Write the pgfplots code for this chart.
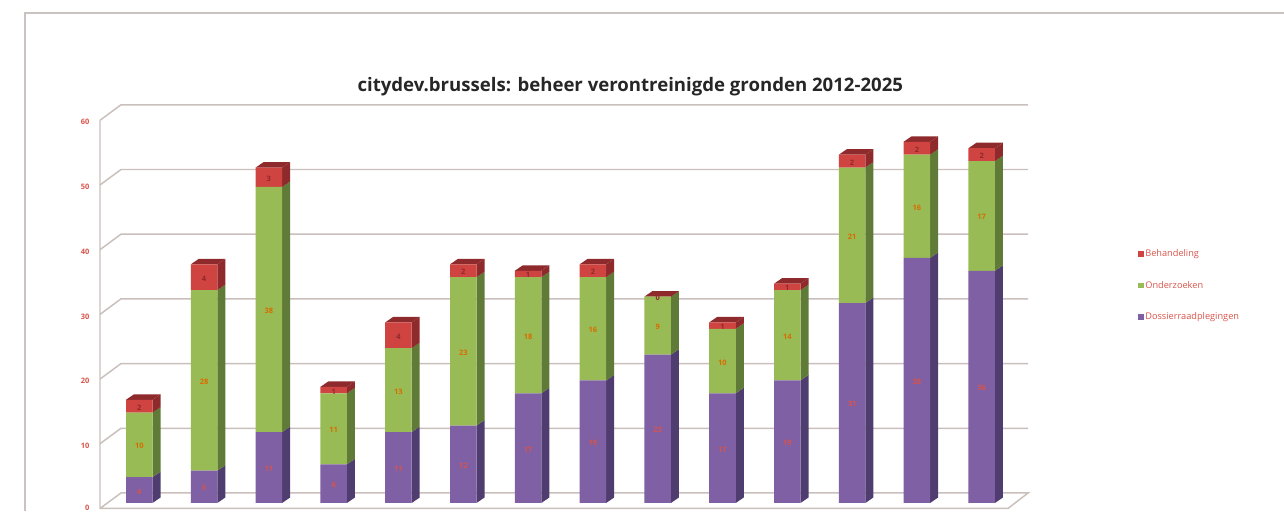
\documentclass[border=0pt]{standalone}
\usepackage{fontspec}
\setmainfont{Open Sans}
\usepackage{pgfplots}
\usepackage{pgfplotstable}
\pgfplotsset{compat=1.18}

\definecolor{wall}{HTML}{C9BFBB}
\definecolor{frame}{HTML}{C8C3C0}
\definecolor{txtred}{HTML}{D9534A}
\definecolor{purplef}{HTML}{7F60A5}
\definecolor{purples}{HTML}{4F3D70}
\definecolor{greenf}{HTML}{99BB55}
\definecolor{greens}{HTML}{5F7B37}
\definecolor{redf}{HTML}{CF4340}
\definecolor{reds}{HTML}{8E2A2C}

% 1 unit = 1 px of the reference
\pgfplotstableread{
x p g r
0 4 10 2
1 5 28 4
2 11 38 3
3 6 11 1
4 11 13 4
5 12 23 2
6 17 18 1
7 19 16 2
8 23 9 0
9 17 10 1
10 19 14 1
11 31 21 2
12 38 16 2
13 36 17 2
}\bars

\pgfplotsset{
  room/.style={
    at={(75pt,2.25pt)}, anchor=south west,
    scale only axis, width=681pt, height=302.25pt,
    xmin=-0.606, xmax=13.406, ymin=-0.78, ymax=61.7,
    clip=false, axis line style={draw=none},
    xtick=\empty, major tick length=0pt,
  },
  front/.style={ybar stacked, fill=#1, draw=none,
    legend image code/.code={\fill[#1] (0pt,-2.2pt) rectangle (4.4pt,2.2pt);}},
  gridln/.style={draw=wall, line width=1.1pt, forget plot},
  lab/.style={only marks, mark=none, forget plot, point meta=explicit symbolic,
    nodes near coords,
    nodes near coords style={anchor=center, yshift=-1pt, text=#1,
      font=\fontsize{5.6}{6}\selectfont\bfseries}},
}

\begin{document}
\begin{tikzpicture}[x=0.75pt,y=0.75pt]
\path[use as bounding box,clip] (0,0) rectangle (1284,511);
\draw[frame,line width=1.5pt] (25,0) -- (25,498) -- (1284,498);

% walls, floor, side and top faces
\begin{axis}[room,
  title={citydev.brussels: beheer verontreinigde gronden 2012-2025},
  every axis title shift=0pt,
  title style={at={(0.584,1.045)}, anchor=center, font=\fontsize{13.95}{15}\selectfont\bfseries, text=black!85},
  ytick={-0.45,9.18,19.21,29.24,39.27,49.3,59.33},
  yticklabels={0,10,20,30,40,50,60},
  /pgf/number format/assume math mode=true,
  y tick label style={text=txtred, font=\fontsize{5.6}{6}\selectfont\bfseries, xshift=-4.5pt, yshift=-1.5pt},
]
\addplot[gridln] coordinates {(-0.606,59.33) (-0.606,-0.85) (13.406,-0.85) (13.715,1.55) (-0.282,1.55) (-0.606,-0.85)};
\addplot[gridln] coordinates {(-0.606,9.18) (-0.282,11.58) (13.715,11.58)};
\addplot[gridln] coordinates {(-0.606,19.21) (-0.282,21.61) (13.715,21.61)};
\addplot[gridln] coordinates {(-0.606,29.24) (-0.282,31.64) (13.715,31.64)};
\addplot[gridln] coordinates {(-0.606,39.27) (-0.282,41.67) (13.715,41.67)};
\addplot[gridln] coordinates {(-0.606,49.3) (-0.282,51.7) (13.715,51.7)};
\addplot[gridln] coordinates {(-0.606,59.33) (-0.282,61.73) (13.715,61.73)};

\pgfplotsinvokeforeach{0,...,13}{
  \pgfplotstablegetelem{#1}{p}\of\bars \let\vp\pgfplotsretval
  \pgfplotstablegetelem{#1}{g}\of\bars \let\vg\pgfplotsretval
  \pgfplotstablegetelem{#1}{r}\of\bars \let\vr\pgfplotsretval
  \pgfmathsetmacro\xa{#1+0.2045}
  \pgfmathsetmacro\xb{#1+0.328}
  \pgfmathsetmacro\xc{#1-0.2045}
  \pgfmathsetmacro\xd{#1-0.081}
  \pgfmathsetmacro\ya{\vp}
  \pgfmathsetmacro\yb{\vp+\vg}
  \pgfmathsetmacro\yc{\vp+\vg+\vr}
  \pgfmathsetmacro\yad{\ya+0.85}
  \pgfmathsetmacro\ybd{\yb+0.85}
  \pgfmathsetmacro\ycd{\yc+0.85}
  \addplot[fill=purples,draw=none,forget plot] coordinates {(\xa,0) (\xb,0.85) (\xb,\yad) (\xa,\ya) (\xa,0)};
  \addplot[fill=greens,draw=none,forget plot] coordinates {(\xa,\ya) (\xb,\yad) (\xb,\ybd) (\xa,\yb) (\xa,\ya)};
  \addplot[fill=reds,draw=none,forget plot] coordinates {(\xa,\yb) (\xb,\ybd) (\xb,\ycd) (\xa,\yc) (\xa,\yb)};
  \addplot[fill=reds,draw=none,forget plot] coordinates {(\xc,\yc) (\xd,\ycd) (\xb,\ycd) (\xa,\yc) (\xc,\yc)};
}
\end{axis}

% front faces and legend
\begin{axis}[room, ytick=\empty, ybar stacked, bar width=19.9pt,
  reverse legend, legend cell align=left,
  legend style={at={(1.143,0.552)}, anchor=west, draw=none, fill=none,
    font=\fontsize{6.9}{7}\selectfont, text=txtred, row sep=14.6pt, inner sep=0pt,
    nodes={inner sep=1pt}},
]
\addplot[front=purplef] table[x=x,y=p] {\bars};
\addlegendentry{Dossierraadplegingen}
\addplot[front=greenf] table[x=x,y=g] {\bars};
\addlegendentry{Onderzoeken}
\addplot[front=redf] table[x=x,y=r] {\bars};
\addlegendentry{Behandeling}
\end{axis}

% value labels, at the middle of each segment
\begin{axis}[room, ytick=\empty]
\addplot[lab=txtred] table[meta=v] {
x y v
0 2 4
1 2.5 5
2 5.5 11
3 3 6
4 5.5 11
5 6 12
6 8.5 17
7 9.5 19
8 11.5 23
9 8.5 17
10 9.5 19
11 15.5 31
12 19 38
13 18 36
};
\addplot[lab=orange!85!black] table[meta=v] {
x y v
0 9 10
1 19 28
2 30 38
3 11.5 11
4 17.5 13
5 23.5 23
6 26 18
7 27 16
8 27.5 9
9 22 10
10 26 14
11 41.5 21
12 46 16
13 44.5 17
};
\addplot[lab=reds] table[meta=v] {
x y v
0 15 2
1 35 4
2 50.5 3
3 17.5 1
4 26 4
5 36 2
6 35.5 1
7 36 2
8 32 0
9 27.5 1
10 33.5 1
11 53 2
12 55 2
13 54 2
};
\end{axis}
\end{tikzpicture}
\end{document}
